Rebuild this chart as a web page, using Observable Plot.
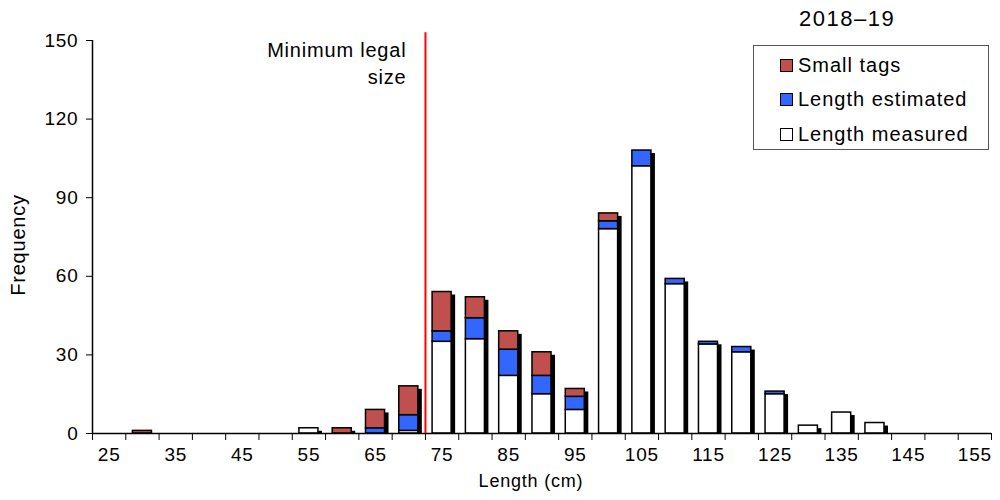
<!DOCTYPE html>
<html>
<head>
<meta charset="utf-8">
<script src="https://cdn.jsdelivr.net/npm/d3@7"></script>
<script src="https://cdn.jsdelivr.net/npm/@observablehq/plot@0.6"></script>
<style>
  body { margin: 0; background: #fff; font-family: "Liberation Sans", Arial, sans-serif; }
  #wrap { position: relative; width: 1000px; height: 500px; }
  #title { position: absolute; left: 799px; top: 6px; font-size: 22px; letter-spacing: 1.5px; color: #000; }
  #legend { position: absolute; left: 753px; top: 45px; width: 236px; height: 105px; border: 1px solid #555; box-sizing: border-box; background: #fff; }
  .item { position: absolute; left: 26px; height: 24px; display: flex; align-items: center; font-size: 20px; letter-spacing: 1px; color: #000; }
  .sw { width: 11px; height: 11px; border: 1.5px solid #000; margin-right: 5px; }
</style>
</head>
<body>
<div id="wrap">
  <div id="chart"></div>
  <div id="title"></div>
  <div id="legend"></div>
</div>
<script>
// Length bins (cm)
const lengths = [25,30,35,40,45,50,55,60,65,70,75,80,85,90,95,100,105,110,115,120,125,130,135,140,145,150,155];
// Series values per bin
const measured  = [0,0,0,0,0,0,2,0,0,1,35,36,22,15,9,78,102,57,34,31,15,3,8,4,0,0,0];
const estimated = [0,0,0,0,0,0,0,0,2,6,4,8,10,7,5,3,6,2,1,2,1,0,0,0,0,0,0];
const smallTags = [0,1,0,0,0,0,0,2,7,11,15,8,7,9,3,3,0,0,0,0,0,0,0,0,0,0,0];
const seriesNames = ["Length measured", "Length estimated", "Small tags"];
const seriesColors = ["#FFFFFF", "#3366FF", "#C0504D"];
const yTicks = [0, 30, 60, 90, 120, 150];
const xLabelTicks = [25, 35, 45, 55, 65, 75, 85, 95, 105, 115, 125, 135, 145, 155];
const minLegalSize = 72.5;
const minLegalLabel = "Minimum legal\nsize";
const titleText = "2018–19";
const xLabel = "Length (cm)";
const yLabel = "Frequency";

const binWidth = 5;
const barHalf = 1.43;
const seriesValues = [measured, estimated, smallTags];

// build stacked rows
const rows = [];
const totals = [];
lengths.forEach((len, i) => {
  let acc = 0;
  seriesValues.forEach((vals, s) => {
    const v = vals[i];
    if (v > 0) rows.push({len, series: seriesNames[s], y1: acc, y2: acc + v});
    acc += v;
  });
  if (acc > 0) totals.push({len, total: acc});
});
const boundaries = lengths.map(l => l - binWidth / 2).concat([lengths[lengths.length - 1] + binWidth / 2]);
const xDomain = [boundaries[0], boundaries[boundaries.length - 1]];

const chart = Plot.plot({
  width: 1000,
  height: 500,
  marginLeft: 92,
  marginRight: 9,
  marginTop: 40,
  marginBottom: 67,
  style: {fontFamily: "Liberation Sans, Arial, sans-serif", fontSize: "19px", color: "#000", background: "#fff", letterSpacing: "0.8px"},
  x: {type: "linear", domain: xDomain},
  y: {domain: [0, 150]},
  color: {domain: seriesNames, range: seriesColors},
  marks: [
    // shadows
    Plot.rectY(totals, {x1: d => d.len - barHalf, x2: d => d.len + barHalf, y1: 0, y2: "total", fill: "#000", dx: 4, dy: 3, clip: true, ariaLabel: "shadow"}),
    // stacked bars
    Plot.rectY(rows, {x1: d => d.len - barHalf, x2: d => d.len + barHalf, y1: "y1", y2: "y2", fill: "series", stroke: "#000", strokeWidth: 1.5}),
    // axes lines
    Plot.ruleY([0], {stroke: "#000", strokeWidth: 1.5}),
    Plot.ruleX([xDomain[0]], {y1: 0, y2: 150, stroke: "#000", strokeWidth: 1.5}),
    Plot.axisY({ticks: yTicks, tickSize: 6, tickPadding: 8, label: null, fontSize: 19}),
    Plot.axisX({ticks: boundaries, tickSize: 7, tickFormat: () => "", label: null}),
    Plot.axisX({ticks: xLabelTicks, tickSize: 0, tickPadding: 14, label: null, fontSize: 19, tickFormat: d => String(d)}),
    // minimum legal size
    Plot.ruleX([minLegalSize], {y1: 0, y2: 153, stroke: "#FF0000", strokeWidth: 2}),
    Plot.text([minLegalLabel], {x: minLegalSize, y: 150, dx: -19, dy: 21, textAnchor: "end", lineAnchor: "middle", lineHeight: 1.35, fontSize: 20}),
    // axis labels
    Plot.text([xLabel], {frameAnchor: "bottom", dx: -11, dy: 48, lineAnchor: "middle", fontSize: 18, ariaLabel: "xlabel"}),
    Plot.text([yLabel], {frameAnchor: "left", rotate: -90, dx: -74, dy: 8, lineAnchor: "middle", textAnchor: "middle", fontSize: 20})
  ]
});
document.getElementById("chart").appendChild(chart);

// blur the shadow slightly
const svg = d3.select(chart);
const defs = svg.insert("defs", ":first-child");
defs.append("filter").attr("id", "shblur").attr("x", "-20%").attr("y", "-20%").attr("width", "140%").attr("height", "140%")
  .append("feGaussianBlur").attr("stdDeviation", 0.9);
svg.selectAll('g[aria-label="shadow"]').attr("filter", "url(#shblur)");
svg.selectAll('g[aria-label="xlabel"]').style("letter-spacing", "0px");

document.getElementById("title").textContent = titleText;
const legend = document.getElementById("legend");
const order = [2, 1, 0];
order.forEach((s, k) => {
  const item = document.createElement("div");
  item.className = "item";
  item.style.top = (7 + k * 34.5) + "px";
  const sw = document.createElement("div");
  sw.className = "sw";
  sw.style.background = seriesColors[s];
  const t = document.createElement("span");
  t.textContent = seriesNames[s];
  item.appendChild(sw);
  item.appendChild(t);
  legend.appendChild(item);
});
</script>
</body>
</html>
